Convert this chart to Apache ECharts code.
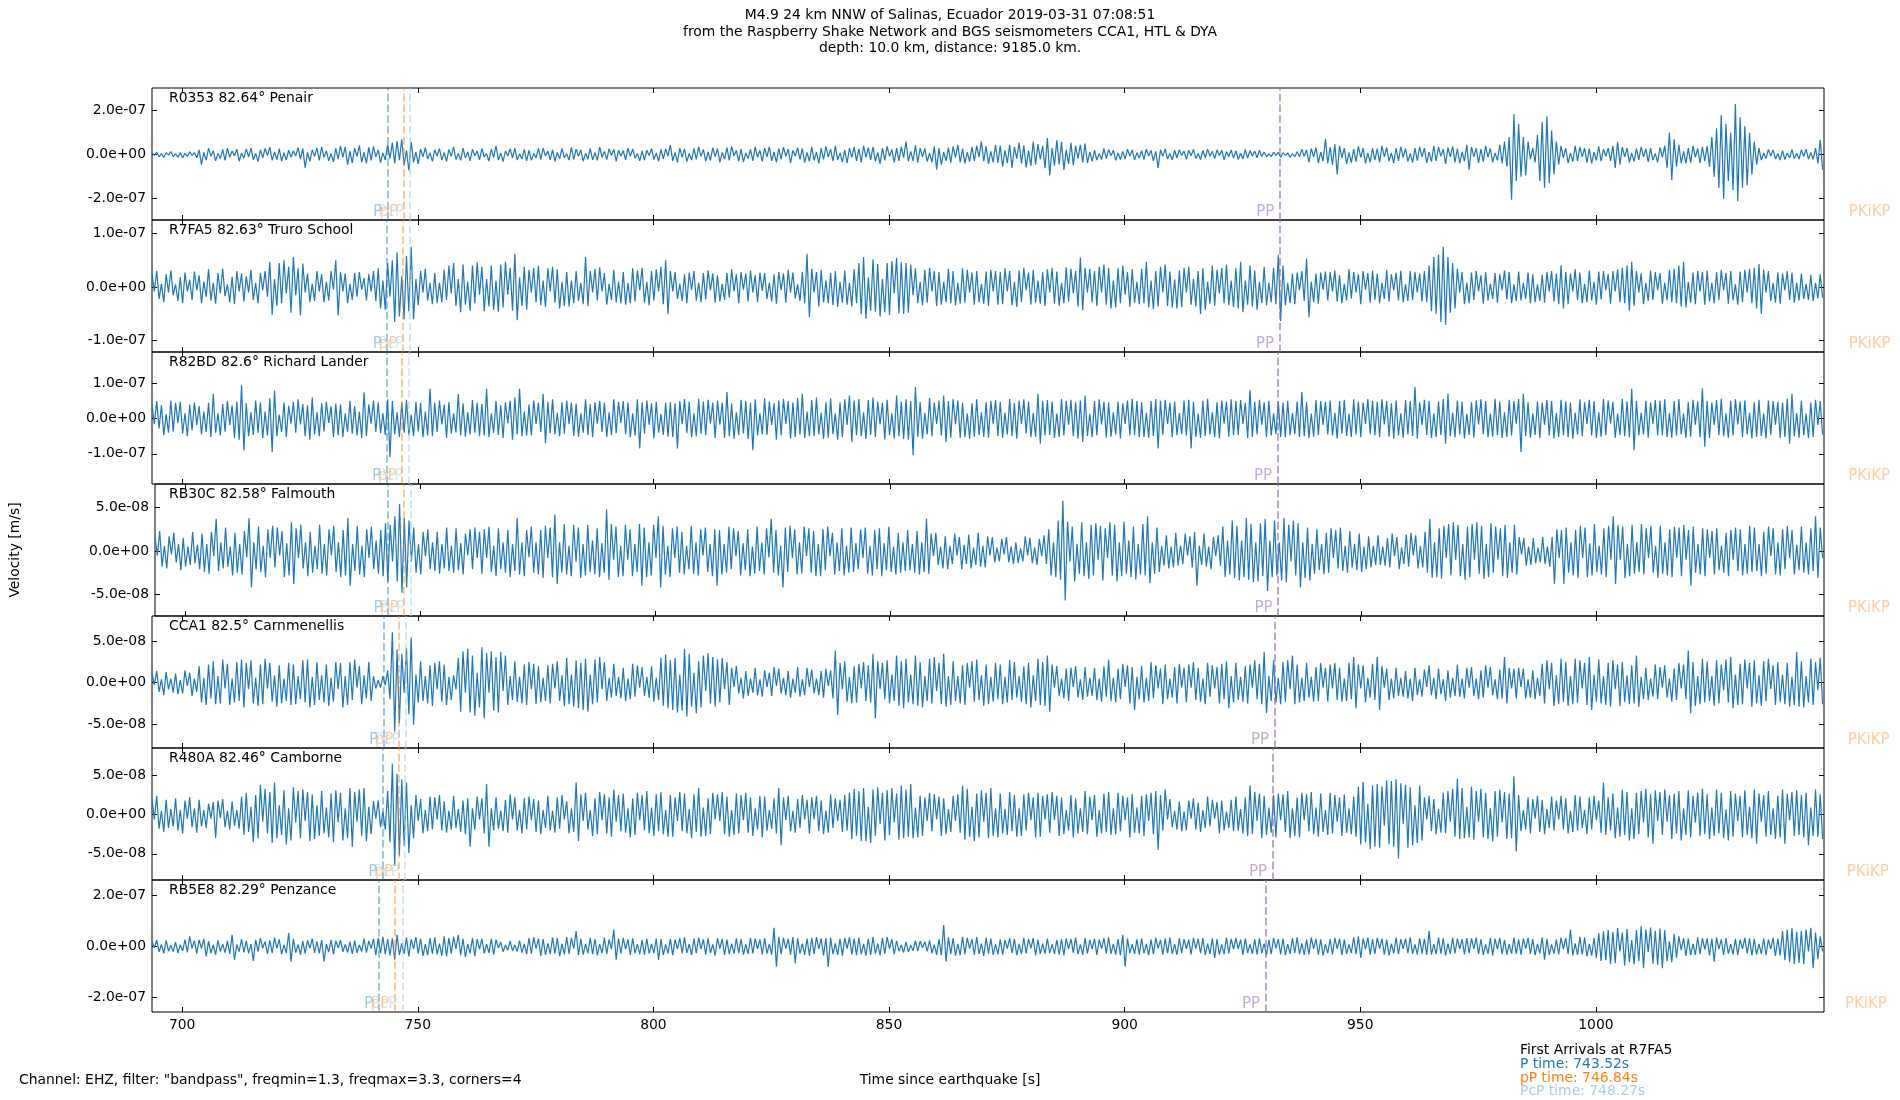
<!DOCTYPE html>
<html><head><meta charset="utf-8">
<script src="https://cdn.jsdelivr.net/npm/echarts@6/dist/echarts.min.js"></script>
<style>html,body{margin:0;padding:0;background:#fff}#c{width:1900px;height:1100px}</style>
</head><body><div id="c"></div>
<script>
// ---- data ----
const T0 = 693.6, DT = 0.5, UNIT = 1e-9;   // samples every 0.5 s, values in nm/s
const X_MIN = 693.6, X_MAX = 1048.4;
const X_TICKS = [700, 750, 800, 850, 900, 950, 1000];
const STATIONS = ['R0353 82.64° Penair', 'R7FA5 82.63° Truro School', 'R82BD 82.6° Richard Lander',
  'RB30C 82.58° Falmouth', 'CCA1 82.5° Carnmenellis', 'R480A 82.46° Camborne', 'RB5E8 82.29° Penzance'];
const Y_MIN = [-2.97e-7, -1.21e-7, -1.86e-7, -7.47e-8, -7.9e-8, -8.33e-8, -2.59e-7];
const Y_MAX = [3.03e-7, 1.25e-7, 1.9e-7, 7.7e-8, 8.07e-8, 8.5e-8, 2.62e-7];
const Y_TICKS = [[-2e-7, 0, 2e-7], [-1e-7, 0, 1e-7], [-1e-7, 0, 1e-7], [-5e-8, 0, 5e-8],
  [-5e-8, 0, 5e-8], [-5e-8, 0, 5e-8], [-2e-7, 0, 2e-7]];
const P_TIME = [743.57, 743.52, 743.36, 743.14, 742.72, 742.57, 741.65];
const PP_SMALL_TIME = [746.96, 746.84, 746.67, 746.54, 746.04, 745.9, 745.12];
const PCP_TIME = [748.23, 748.27, 748.09, 747.94, 747.52, 747.31, 746.82];
const PP_TIME = [932.93, 932.86, 932.43, 932.36, 931.8, 931.4, 929.9];
const PKIKP_TIME = [1063.7, 1063.7, 1063.6, 1063.6, 1063.5, 1063.3, 1062.9];

const R0353 = [
8,-3,12,-10,5,-13,9,-2,14,-9,4,-12,10,-15,6,-8,13,-4,9,-14,
22,-45,10,-25,30,-8,18,-28,6,-18,24,-26,30,-12,17,-5,25,-30,8,-16,
26,-10,30,-24,6,-32,22,-14,28,-4,34,-26,12,-22,27,-30,9,-24,20,-12,
18,-6,32,-20,28,-60,10,-30,22,-8,30,-26,35,-12,18,-28,5,-33,29,-20,
40,-12,35,-45,15,-38,30,-8,42,-35,12,-40,33,-26,38,-10,22,-36,8,-25,
45,-18,55,-40,62,-25,70,-48,20,-72,58,-35,12,-42,25,-10,32,-20,8,-30,
22,-6,28,-25,10,-30,24,-8,35,-22,6,-26,30,-15,12,-28,25,-5,16,-24,
28,-10,5,-30,25,-12,40,-24,8,-32,17,-6,26,-15,30,-25,4,-20,24,-28,
20,-26,6,-15,28,-22,30,-5,16,-24,22,-30,10,-18,28,-14,4,-25,33,-22,
25,-8,22,-30,6,-20,28,-24,10,-26,35,-12,15,-22,27,-4,24,-30,20,-6,
18,-24,30,-8,26,-16,5,-28,17,-25,20,-4,28,-22,8,-30,24,-19,26,-6,
45,-28,10,-35,30,-12,26,-32,6,-25,28,-22,35,-8,24,-30,12,-26,32,-10,
28,-35,10,-20,32,-26,38,-6,20,-30,26,-34,8,-18,24,-28,35,-12,20,-32,
30,-10,36,-28,12,-35,28,-20,34,-8,25,-38,20,-6,32,-22,28,-36,10,-30,
35,-26,12,-40,30,-22,38,-10,25,-30,40,-24,8,-34,22,-38,30,-12,35,-28,
26,-35,40,-12,32,-24,36,-30,10,-42,30,-26,38,-8,24,-36,30,-28,35,-14,
60,-30,15,-28,42,-36,30,-10,28,-32,8,-35,38,-68,30,-45,12,-28,32,-36,
38,-14,45,-35,28,-40,12,-32,35,-28,40,-10,60,-30,38,-42,15,-35,45,-38,
40,-55,20,-38,45,-60,35,-18,55,-40,42,-58,18,-50,60,-45,48,-20,40,-62,
75,-95,30,-50,65,-45,58,-70,22,-42,55,-48,40,-18,45,-35,50,-38,12,-30,
20,-25,6,-22,28,-18,24,-5,20,-26,8,-22,15,-20,25,-7,22,-24,9,-15,
18,-22,25,-6,20,-28,15,-60,22,-8,26,-20,5,-24,20,-15,23,-4,16,-21,
20,-5,24,-18,6,-22,19,-14,25,-7,15,-18,22,-4,20,-24,14,-9,21,-16,
18,-22,5,-20,24,-16,19,-6,17,-14,20,-8,12,-10,4,-9,11,-3,10,-12,
9,-3,8,-12,4,-9,13,-10,25,-8,22,-35,28,-10,32,-38,12,-30,72,-40,
35,-45,48,-90,40,-15,30,-42,10,-36,25,-32,38,-12,30,-40,8,-34,30,-25,
28,-35,40,-10,32,-30,8,-38,30,-28,36,-12,28,-32,6,-36,30,-27,35,-10,
30,-38,12,-32,40,-28,35,-8,25,-42,32,-10,38,-35,28,-40,12,-30,45,-68,
35,-10,30,-38,25,-32,40,-12,28,-35,8,-26,45,-40,60,-55,80,-205,185,-120,
140,-100,80,-95,60,-20,30,-35,90,-120,150,-150,175,-130,110,-90,60,-45,40,-15,
30,-38,8,-32,40,-28,35,-10,30,-36,28,-40,12,-26,38,-30,25,-8,30,-28,
40,-60,58,-45,35,-10,30,-35,8,-32,28,-24,35,-10,26,-33,30,-25,6,-35,
32,-12,40,-60,100,-115,70,-55,45,-38,15,-40,30,-36,40,-12,28,-38,35,-30,
40,-55,80,-100,120,-150,180,-200,140,-120,100,-160,230,-212,170,-150,130,-140,100,-90,
60,-45,30,-25,8,-18,24,-6,22,-20,5,-25,18,-22,8,-15,24,-18,6,-20,
22,-8,25,-20,10,-22,30,-40,68,-68];

const R7FA5 = [
25,-8,30,-22,6,-28,24,-10,31,-15,5,-26,18,-30,27,-8,14,-24,29,-6,
22,-30,10,-18,33,-25,8,-31,26,-12,34,-17,5,-28,19,-32,30,-8,25,-27,
20,-10,32,-24,8,-30,26,-6,30,-18,47,-52,15,-35,45,-30,50,-12,38,-48,
56,-15,35,-53,44,-10,25,-28,6,-26,30,-8,24,-28,10,-25,30,-5,50,-53,
28,-8,25,-30,6,-24,26,-18,28,-5,17,-25,24,-8,30,-26,35,-40,12,-42,
45,-18,50,-65,65,-55,20,-60,58,-45,75,-60,15,-34,30,-10,34,-25,8,-32,
26,-30,8,-28,32,-24,40,-12,45,-35,15,-47,42,-33,10,-44,40,-30,46,-14,
38,-45,15,-36,40,-42,12,-46,42,-38,47,-14,36,-44,62,-62,18,-35,38,-42,
32,-10,36,-28,40,-34,12,-37,35,-8,38,-29,33,-40,10,-35,28,-36,12,-30,
30,-26,8,-32,56,-35,30,-10,34,-25,37,-8,26,-33,6,-24,32,-28,10,-30,
28,-33,8,-30,35,-27,31,-6,36,-29,10,-34,30,-25,33,-8,38,-32,50,-50,
30,-8,28,-22,6,-26,24,-30,27,-5,30,-25,8,-28,26,-23,31,-6,25,-29,
22,-27,6,-24,26,-20,33,-8,24,-30,28,-5,25,-27,31,-10,22,-28,27,-7,
26,-22,8,-27,24,-31,28,-6,25,-29,32,-10,27,-21,5,-26,28,-30,62,-56,
34,-10,28,-36,32,-28,12,-30,26,-34,30,-37,10,-29,31,-33,8,-36,33,-30,
45,-50,56,-59,18,-44,52,-46,43,-55,15,-47,45,-52,48,-12,54,-49,46,-50,
45,-48,42,-15,35,-30,10,-34,32,-29,36,-8,30,-35,28,-33,10,-28,34,-30,
30,-34,8,-31,35,-29,32,-10,27,-33,30,-28,6,-31,29,-35,32,-8,30,-33,
28,-32,35,-8,30,-34,10,-37,31,-28,36,-6,27,-33,32,-29,12,-31,28,-35,
33,-10,36,-31,29,-35,8,-30,37,-27,34,-12,30,-36,55,-43,36,-10,34,-28,
30,-35,38,-10,42,-33,36,-40,12,-38,35,-30,40,-14,28,-37,33,-29,10,-32,
34,-30,47,-38,12,-41,30,-36,38,-10,42,-35,29,-38,14,-40,31,-37,36,-10,
38,-33,15,-36,30,-50,35,-42,10,-31,40,-35,32,-12,36,-30,42,-34,12,-37,
35,-40,47,-47,12,-33,40,-36,31,-42,10,-30,38,-34,8,-28,36,-32,60,-63,
40,-34,8,-30,25,-32,27,-6,30,-26,53,-56,10,-28,25,-31,27,-5,29,-25,
28,-8,31,-27,22,-30,6,-25,33,-21,28,-10,24,-32,30,-5,26,-29,31,-24,
25,-30,8,-22,32,-27,24,-6,27,-25,31,-28,5,-26,30,-24,28,-10,25,-27,
30,-28,40,-45,56,-50,60,-65,75,-70,56,-48,45,-40,34,-10,28,-32,8,-30,
27,-24,30,-8,22,-31,28,-25,6,-22,26,-29,24,-6,31,-23,28,-30,5,-26,
29,-25,8,-22,27,-30,24,-28,5,-26,23,-29,28,-8,30,-27,25,-32,40,-40,
28,-32,25,-8,33,-24,27,-30,6,-28,31,-25,10,-33,29,-23,30,-6,24,-31,
30,-8,33,-28,36,-30,40,-44,47,-35,30,-10,25,-32,8,-26,31,-24,28,-6,
26,-31,8,-25,32,-28,34,-30,40,-36,47,-38,10,-29,27,-32,30,-8,28,-33,
31,-27,8,-30,28,-24,32,-6,26,-31,30,-25,5,-33,29,-28,32,-10,34,-30,
36,-40,43,-50,32,-10,30,-26,8,-29,27,-31,25,-6,30,-24,27,-29,8,-25,
25,-22,6,-24,23,-26,8,-21,24,-20];

const R82BD = [
42,-15,50,-28,38,-47,13,-40,52,-36,45,-12,48,-42,15,-50,40,-33,46,-18,
36,-44,20,-38,45,-52,71,-40,15,-48,42,-37,50,-18,38,-55,48,-60,95,-90,
44,-50,18,-46,52,-40,47,-55,20,-48,58,-95,80,-50,12,-38,46,-52,37,-14,
48,-40,55,-16,42,-50,38,-60,60,-45,18,-50,44,-36,48,-12,35,-52,43,-47,
40,-52,15,-38,50,-43,36,-48,20,-55,75,-50,40,-14,52,-38,47,-41,15,-46,
55,-109,50,-44,18,-52,46,-40,54,-47,12,-50,48,-36,45,-53,20,-48,85,-50,
45,-38,52,-16,40,-55,47,-42,15,-39,70,-48,44,-51,18,-45,53,-40,46,-50,
42,-48,85,-52,15,-40,50,-46,38,-55,47,-13,51,-60,60,-45,85,-50,20,-48,
40,-47,52,-15,46,-38,70,-70,48,-41,55,-45,17,-50,47,-43,52,-15,45,-49,
43,-51,15,-40,55,-46,41,-53,47,-14,50,-38,46,-52,18,-47,55,-41,48,-12,
50,-44,46,-53,15,-48,55,-85,47,-42,52,-17,44,-56,48,-40,13,-46,45,-51,
47,-52,44,-85,50,-16,56,-41,48,-53,15,-50,57,-43,49,-47,54,-14,46,-55,
52,-17,45,-55,76,-50,43,-57,18,-46,54,-42,50,-58,45,-90,55,-48,15,-44,
58,-46,49,-18,44,-60,52,-47,57,-15,50,-56,46,-52,59,-45,71,-55,20,-50,
53,-49,60,-45,17,-57,47,-54,58,-44,15,-60,46,-53,55,-18,66,-66,52,-47,
56,-50,18,-58,53,-46,60,-52,49,-16,45,-59,54,-47,15,-56,66,-50,48,-58,
55,-60,50,-104,90,-52,48,-57,17,-45,59,-50,46,-15,52,-48,66,-66,50,-54,
57,-16,52,-55,46,-53,15,-57,44,-51,55,-46,18,-52,47,-54,51,-14,53,-49,
48,-54,17,-45,56,-49,44,-57,52,-15,55,-42,49,-53,16,-51,71,-71,50,-47,
53,-46,49,-55,15,-52,57,-48,51,-17,54,-50,47,-56,52,-66,66,-49,14,-53,
50,-47,55,-16,48,-54,46,-51,18,-45,49,-56,44,-15,52,-48,57,-46,50,-53,
47,-52,17,-55,50,-49,56,-85,51,-46,54,-15,45,-53,49,-47,16,-44,52,-48,
54,-85,48,-52,15,-55,51,-49,57,-45,18,-53,47,-56,52,-14,49,-51,55,-47,
50,-46,53,-15,45,-55,82,-52,48,-45,54,-17,47,-53,51,-48,15,-44,49,-52,
46,-53,51,-47,16,-44,49,-52,76,-50,47,-55,15,-51,53,-46,50,-18,48,-45,
52,-48,17,-56,50,-43,54,-49,14,-52,55,-45,49,-53,46,-15,56,-44,51,-47,
48,-53,55,-16,50,-51,44,-57,52,-48,15,-54,53,-45,50,-49,91,-56,47,-18,
54,-47,50,-55,15,-52,49,-46,56,-71,71,-50,17,-53,52,-45,48,-56,14,-46,
47,-54,52,-16,55,-44,50,-53,15,-51,57,-47,49,-55,18,-52,54,-48,50,-14,
56,-95,71,-50,47,-54,15,-46,49,-55,45,-17,53,-48,50,-56,16,-52,54,-47,
49,-53,46,-57,17,-45,55,-50,47,-15,54,-48,50,-55,18,-51,56,-47,52,-14,
48,-55,15,-46,57,-50,49,-53,85,-90,51,-47,17,-45,50,-54,46,-15,53,-48,
51,-47,55,-52,16,-54,50,-48,56,-45,15,-55,47,-51,54,-17,49,-53,87,-80,
50,-55,46,-18,53,-47,57,-50,15,-54,51,-48,55,-16,49,-53,52,-45,17,-56,
47,-51,54,-49,15,-56,52,-46,50,-17,48,-55,46,-52,57,-71,71,-50,16,-54,
52,-47,15,-55,46,-52,54,-18,50,-45];

const RB30C = [
16,-5,23,-18,6,-20,17,-4,21,-13,8,-22,15,-18,5,-16,22,-14,7,-21,
20,-24,8,-26,22,-6,37,-23,10,-20,27,-18,5,-28,21,-25,8,-27,23,-7,
38,-42,10,-21,28,-24,6,-30,25,-8,29,-19,27,-5,23,-30,9,-28,33,-38,
26,-8,30,-20,10,-29,22,-25,6,-21,30,-26,8,-28,25,-5,29,-24,10,-30,
24,-28,38,-40,8,-23,29,-27,6,-30,25,-8,28,-21,12,-26,24,-29,32,-35,
30,-12,40,-35,54,-48,38,-42,35,-12,27,-25,8,-27,22,-6,25,-21,10,-23,
22,-26,8,-20,27,-23,6,-25,26,-22,9,-27,20,-5,25,-21,27,-8,22,-26,
25,-8,28,-24,6,-29,26,-21,10,-25,24,-30,8,-23,38,-27,10,-29,24,-7,
28,-25,10,-27,24,-31,29,-8,27,-30,42,-38,10,-25,31,-27,6,-29,30,-12,
27,-31,8,-28,30,-24,12,-27,26,-30,9,-25,48,-33,31,-10,28,-30,6,-29,
30,-10,25,-29,8,-24,31,-40,27,-30,10,-28,30,-8,40,-42,29,-27,6,-30,
26,-8,28,-25,22,-27,6,-21,29,-26,10,-28,25,-5,27,-24,8,-29,25,-40,
24,-27,8,-25,28,-21,26,-6,23,-28,9,-22,25,-29,5,-26,28,-23,10,-27,
26,-7,37,-25,24,-28,6,-42,27,-24,29,-8,25,-27,10,-26,28,-6,26,-25,
23,-29,8,-29,25,-22,28,-6,21,-27,10,-23,26,-28,6,-25,27,-24,9,-21,
25,-8,27,-26,6,-28,24,-21,26,-29,9,-22,28,-24,5,-27,21,-25,10,-23,
24,-22,8,-25,23,-27,10,-24,37,-26,20,-6,21,-16,5,-20,17,-21,6,-15,
20,-5,16,-21,7,-15,19,-20,4,-16,21,-18,6,-19,17,-5,16,-13,4,-12,
14,-4,16,-13,5,-15,10,-14,3,-12,17,-5,15,-14,4,-16,14,-6,18,-15,
25,-28,10,-30,35,-33,58,-57,34,-12,28,-35,8,-26,33,-29,10,-32,30,-28,
32,-10,29,-34,26,-8,33,-28,30,-35,10,-29,34,-26,12,-30,28,-33,8,-27,
31,-28,40,-37,10,-26,27,-24,6,-17,18,-20,5,-19,21,-17,6,-15,20,-5,
17,-19,22,-40,6,-16,20,-18,5,-21,16,-6,18,-17,28,-30,12,-27,35,-31,
29,-34,12,-30,38,-33,31,-36,10,-35,32,-29,37,-46,12,-30,35,-28,10,-34,
38,-36,30,-12,35,-28,32,-42,10,-31,27,-34,8,-26,25,-22,8,-27,21,-25,
26,-8,24,-20,27,-23,6,-25,23,-19,8,-22,20,-24,5,-21,17,-19,6,-16,
18,-16,5,-17,15,-19,20,-6,16,-21,4,-15,19,-18,21,-5,18,-20,6,-19,
22,-25,37,-31,10,-30,26,-32,29,-8,31,-28,33,-10,30,-29,8,-33,28,-30,
31,-10,33,-26,29,-32,8,-30,32,-25,28,-10,26,-29,30,-31,10,-25,30,-27,
16,-4,15,-17,5,-16,15,-14,4,-13,16,-15,5,-18,16,-38,25,-8,24,-38,
27,-25,10,-28,24,-31,29,-8,27,-30,9,-28,31,-24,6,-27,26,-30,29,-10,
40,-38,30,-10,28,-31,8,-29,30,-26,10,-24,31,-27,26,-8,29,-25,6,-31,
29,-26,10,-28,25,-30,28,-8,27,-29,30,-10,24,-40,28,-25,8,-27,26,-29,
25,-8,23,-27,26,-22,6,-25,21,-29,24,-10,27,-23,25,-28,8,-26,29,-24,
27,-23,8,-29,22,-26,28,-6,26,-27,10,-28,25,-21,29,-8,24,-27,7,-22,
28,-25,10,-27,26,-23,40,-31,27,-8];

const CCA1 = [
12,-3,14,-11,4,-15,13,-8,5,-12,11,-14,3,-13,15,-4,12,-16,5,-11,
20,-24,6,-27,22,-19,26,-26,8,-25,28,-7,23,-27,5,-24,25,-22,28,-30,
24,-8,27,-25,6,-28,22,-26,29,-7,24,-23,9,-29,21,-25,5,-22,24,-27,
22,-26,8,-20,27,-24,28,-30,7,-27,25,-21,9,-24,22,-28,6,-23,25,-8,
24,-30,8,-27,25,-21,28,-6,20,-26,9,-19,25,-22,8,-7,3,-6,8,-3,
15,-20,61,-59,40,-49,35,-12,42,-38,55,-51,10,-24,26,-22,8,-25,21,-28,
24,-8,26,-23,22,-27,7,-21,9,-8,30,-35,38,-12,41,-36,33,-40,12,-30,
43,-43,36,-12,38,-34,31,-36,37,-10,33,-27,8,-21,26,-23,7,-25,22,-27,
25,-8,23,-26,20,-24,6,-22,21,-25,23,-7,26,-22,9,-28,30,-26,10,-29,
27,-31,24,-33,29,-35,10,-26,28,-24,31,-8,25,-22,6,-18,23,-16,7,-19,
18,-22,5,-20,23,-17,21,-6,19,-16,7,-18,20,-23,6,-21,30,-28,34,-31,
27,-33,30,-36,10,-34,41,-41,35,-29,12,-37,26,-30,33,-10,36,-25,31,-29,
28,-24,30,-8,25,-27,18,-5,20,-13,6,-19,14,-16,5,-12,18,-15,4,-17,
15,-5,12,-16,19,-4,17,-13,6,-15,14,-18,5,-12,19,-17,4,-15,18,-5,
16,-13,5,-15,14,-18,17,-4,15,-19,39,-39,24,-8,26,-23,7,-25,20,-24,
23,-7,25,-22,21,-24,35,-43,26,-8,24,-20,27,-25,10,-22,33,-28,26,-31,
29,-24,10,-26,33,-28,25,-30,8,-22,29,-25,31,-10,24,-26,35,-29,8,-27,
26,-22,8,-25,21,-27,24,-6,26,-23,28,-21,9,-28,22,-26,7,-23,24,-20,
22,-26,7,-24,27,-21,25,-18,8,-23,20,-26,24,-30,9,-22,29,-27,25,-28,
33,-35,22,-6,20,-16,5,-19,17,-22,18,-5,20,-18,4,-21,19,-17,6,-16,
18,-21,5,-23,20,-17,28,-22,6,-24,17,-20,23,-5,21,-25,19,-33,7,-20,
20,-24,6,-22,25,-19,21,-7,17,-26,22,-20,5,-18,19,-25,23,-6,18,-24,
22,-6,25,-21,18,-23,5,-26,24,-17,21,-7,19,-25,23,-20,26,-31,8,-24,
24,-21,7,-23,20,-25,22,-6,27,-20,23,-26,37,-37,8,-22,27,-24,6,-26,
25,-23,27,-8,33,-26,22,-24,6,-22,24,-18,7,-23,19,-22,24,-6,18,-23,
22,-7,24,-21,18,-23,5,-22,24,-20,31,-31,22,-7,21,-24,6,-18,23,-21,
31,-33,20,-6,17,-21,5,-19,18,-16,6,-17,14,-19,5,-22,18,-15,4,-17,
16,-5,21,-15,6,-20,17,-14,4,-22,15,-18,6,-16,22,-17,5,-19,18,-6,
19,-16,5,-20,15,-18,21,-6,19,-15,4,-20,16,-19,31,-25,18,-7,17,-19,
18,-5,17,-19,4,-18,15,-20,6,-16,23,-25,27,-8,24,-28,9,-26,29,-23,
25,-28,8,-26,29,-24,27,-7,24,-27,31,-33,10,-23,28,-25,8,-27,24,-29,
27,-8,22,-28,25,-23,9,-26,21,-25,33,-29,7,-20,18,-21,5,-17,22,-20,
19,-6,21,-18,5,-23,17,-21,24,-7,22,-20,39,-37,25,-28,8,-26,29,-24,
26,-22,8,-28,27,-25,22,-9,28,-24,31,-31,10,-27,23,-26,28,-7,24,-29,
27,-25,9,-28,26,-22,29,-8,21,-27,25,-23,10,-26,24,-29,7,-27,37,-29,
26,-30,8,-24,29,-27,25,-9,30,-26];

const R480A = [
20,-6,24,-18,5,-22,19,-17,7,-15,21,-20,6,-24,18,-5,22,-16,8,-23,
19,-15,6,-17,14,-5,16,-30,18,-4,20,-16,5,-19,17,-14,6,-18,23,-26,
28,-22,10,-35,25,-30,38,-9,33,-24,29,-36,41,-30,12,-26,31,-38,8,-33,
35,-10,30,-30,32,-8,29,-34,26,-31,12,-27,30,-24,9,-29,27,-35,31,-10,
28,-33,8,-30,34,-41,29,-9,32,-27,34,-34,10,-25,17,-5,18,-16,4,-19,
30,-35,65,-65,52,-52,45,-40,41,-49,12,-30,25,-8,20,-24,6,-21,23,-19,
22,-6,25,-20,17,-23,5,-19,24,-17,7,-22,18,-25,21,-41,8,-19,23,-6,
21,-24,39,-41,8,-20,22,-18,5,-21,19,-23,26,-6,22,-20,6,-24,21,-19,
23,-7,20,-22,18,-25,6,-17,24,-20,5,-23,22,-18,25,-6,17,-24,8,-22,
41,-34,26,-8,28,-19,6,-27,21,-25,29,-7,26,-24,22,-28,32,-9,25,-21,
27,-23,8,-29,21,-26,28,-7,25,-20,30,-24,9,-27,26,-21,29,-25,6,-28,
25,-28,22,-8,29,-21,27,-24,7,-30,26,-22,34,-28,9,-27,21,-25,28,-6,
26,-8,29,-25,23,-28,6,-26,27,-24,25,-7,28,-23,22,-27,8,-19,24,-29,
23,-20,6,-18,21,-24,34,-39,22,-7,24,-21,5,-23,20,-17,25,-6,19,-24,
22,-6,24,-21,18,-25,5,-23,26,-17,21,-8,19,-22,25,-20,28,-31,33,-27,
30,-34,34,-34,10,-36,32,-27,35,-12,28,-33,31,-26,34,-10,27,-32,37,-30,
32,-28,39,-30,9,-29,24,-27,22,-8,28,-21,26,-6,23,-27,21,-25,7,-22,
24,-8,26,-23,37,-32,33,-28,10,-34,27,-29,31,-9,28,-30,34,-27,8,-29,
27,-24,7,-26,29,-21,25,-28,8,-27,26,-20,28,-7,22,-29,28,-28,24,-6,
26,-23,29,-7,24,-27,22,-25,6,-20,25,-29,21,-24,8,-22,30,-25,23,-7,
25,-28,6,-24,27,-22,29,-26,8,-25,28,-21,24,-7,22,-29,26,-23,9,-24,
24,-27,26,-8,28,-25,30,-45,25,-20,32,-6,20,-16,5,-19,17,-21,4,-20,
18,-5,21,-19,15,-22,6,-17,23,-15,19,-5,16,-24,18,-20,4,-17,19,-21,
23,-20,7,-24,22,-27,37,-25,29,-8,27,-30,24,-26,9,-23,25,-29,27,-7,
26,-22,30,-30,8,-27,22,-29,28,-7,26,-21,29,-25,9,-28,27,-22,6,-26,
28,-24,25,-9,22,-27,26,-23,8,-25,23,-28,36,-38,42,-35,14,-44,37,-41,
39,-42,36,-14,44,-38,43,-41,45,-56,40,-12,38,-42,35,-39,12,-36,37,-33,
22,-6,24,-21,20,-25,7,-23,28,-24,30,-9,33,-28,46,-31,34,-30,10,-29,
36,-32,30,-9,33,-29,28,-31,8,-34,30,-28,32,-10,29,-31,27,-30,49,-47,
25,-21,6,-19,22,-24,20,-5,24,-22,19,-25,7,-17,23,-20,18,-6,24,-19,
21,-24,5,-22,25,-20,23,-17,6,-25,22,-19,24,-7,18,-23,41,-26,22,-20,
27,-30,9,-28,32,-26,29,-33,8,-31,28,-25,30,-10,33,-29,26,-37,31,-8,
29,-26,32,-9,25,-31,27,-24,30,-33,8,-26,31,-29,24,-10,28,-27,33,-25,
26,-31,9,-27,32,-24,28,-30,7,-33,30,-28,27,-8,24,-29,31,-26,10,-30,
32,-37,27,-9,25,-28,30,-26,8,-31,24,-29,32,-37,27,-7,29,-27,31,-26,
25,-29,28,-39,9,-27,32,-28,26,-31];

const RB5E8 = [
20,-6,25,-22,8,-28,24,-19,5,-21,17,-26,7,-18,27,-24,40,-8,23,-29,
26,-8,30,-40,21,-27,6,-33,24,-20,9,-25,22,-30,46,-53,8,-21,29,-24,
22,-28,9,-57,26,-21,33,-7,19,-30,24,-27,35,-8,28,-31,6,-26,53,-60,
30,-25,8,-33,21,-29,24,-7,31,-26,20,-28,25,-60,9,-23,26,-32,22,-6,
25,-21,8,-24,19,-30,23,-26,6,-20,31,-25,22,-9,30,-35,33,-27,38,-31,
29,-36,32,-53,46,-34,12,-30,35,-40,28,-10,37,-29,31,-38,9,-35,33,-30,
36,-32,11,-37,40,-40,34,-29,38,-10,46,-35,30,-42,9,-28,33,-39,29,-12,
31,-28,9,-26,30,-33,27,-6,17,-21,5,-15,22,-18,6,-20,23,-25,10,-31,
33,-29,36,-9,31,-38,29,-34,12,-30,35,-28,33,-39,10,-32,37,-30,34,-9,
60,-35,30,-33,10,-28,34,-31,29,-36,9,-27,35,-30,28,-11,66,-53,31,-29,
34,-11,28,-35,32,-27,9,-31,26,-33,30,-29,10,-27,31,-53,29,-34,8,-28,
30,-35,27,-10,33,-28,36,-26,9,-34,31,-27,35,-11,28,-33,32,-26,8,-36,
33,-9,30,-34,27,-31,11,-29,32,-27,29,-33,8,-30,34,-28,31,-10,28,-32,
32,-29,10,-33,73,-80,38,-31,34,-9,30,-33,37,-66,32,-29,11,-34,31,-37,
34,-30,37,-10,31,-36,33,-80,35,-31,12,-34,30,-37,33,-9,36,-32,31,-35,
35,-31,10,-37,30,-34,38,-29,11,-36,34,-30,37,-9,29,-31,22,-19,6,-24,
18,-22,5,-17,23,-19,21,-6,18,-20,24,-27,7,-33,28,-35,84,-60,36,-31,
33,-37,10,-35,38,-31,34,-9,29,-33,37,-30,11,-38,35,-29,31,-34,9,-32,
28,-33,25,-9,32,-27,29,-35,10,-31,34,-28,30,-8,33,-36,27,-30,11,-29,
31,-27,9,-30,26,-33,29,-36,32,-10,30,-25,35,-31,8,-34,33,-29,26,-11,
30,-34,27,-9,33,-28,36,-30,10,-33,29,-35,46,-80,31,-27,9,-30,28,-33,
32,-28,10,-35,27,-31,34,-8,26,-33,31,-27,35,-30,9,-34,32,-26,29,-10,
27,-32,34,-9,31,-27,33,-35,11,-30,32,-46,29,-33,8,-31,35,-28,30,-12,
33,-10,27,-34,31,-26,9,-30,28,-33,32,-27,11,-35,26,-31,34,-8,29,-32,
31,-35,9,-30,33,-27,36,-31,12,-34,27,-32,35,-10,30,-33,28,-36,9,-27,
29,-32,34,-10,31,-35,27,-30,8,-26,36,-31,40,-46,32,-11,35,-33,28,-30,
34,-9,30,-33,27,-36,11,-28,35,-31,29,-10,31,-27,36,-30,8,-33,32,-29,
30,-34,60,-33,9,-31,35,-29,32,-36,11,-30,34,-28,31,-10,29,-32,33,-27,
32,-10,35,-31,29,-34,8,-30,33,-36,30,-11,34,-31,26,-33,9,-29,35,-30,
28,-33,31,-9,34,-30,29,-35,10,-28,36,-53,30,-34,8,-29,27,-32,35,-11,
33,-30,66,-36,12,-34,38,-32,35,-40,10,-37,33,-45,53,-58,60,-55,64,-70,
58,-66,72,-20,55,-75,68,-62,25,-70,64,-59,80,-86,66,-22,74,-68,62,-72,
70,-86,64,-58,20,-62,50,-45,40,-15,33,-38,31,-35,10,-34,36,-30,33,-12,
32,-36,30,-60,35,-11,28,-34,33,-29,9,-32,30,-35,27,-10,34,-28,32,-36,
29,-33,10,-30,31,-35,28,-11,34,-38,30,-36,60,-55,66,-62,73,-70,58,-65,
62,-70,66,-20,73,-86,55,-50,40,-20];

const TRACES = [R0353, R7FA5, R82BD, RB30C, CCA1, R480A, RB5E8];

// ---- styling ----
const FONT = 'DejaVu Sans', FS = 13.9;
const TRACE_COLOR = '#1f77b4';
const C_P = 'rgba(31,119,180,0.5)', C_PS = 'rgba(255,127,14,0.5)', C_PCP = 'rgba(166,206,227,0.6)';
const C_PP = 'rgba(148,103,189,0.7)', C_PKIKP = 'rgba(255,127,14,0.5)';
const DASH = [7.5, 3.3];

function sci(v) {
  if (v === 0) return '0.0e+00';
  const s = v.toExponential(1).split('e');
  const sign = s[1][0] === '-' ? '-' : '+';
  let d = s[1].replace(/[+-]/, '');
  if (d.length < 2) d = '0' + d;
  return s[0] + 'e' + sign + d;
}

const grids = [], xAxes = [], yAxes = [], series = [];
const txt = (extra) => Object.assign({ color: '#000', fontFamily: FONT, fontSize: FS, fontWeight: 'normal' }, extra || {});
const titles = [
  { text: 'M4.9 24 km NNW of Salinas, Ecuador 2019-03-31 07:08:51', left: 'center', top: 8, padding: 0, textStyle: txt() },
  { text: 'from the Raspberry Shake Network and BGS seismometers CCA1, HTL & DYA', left: 'center', top: 25, padding: 0, textStyle: txt() },
  { text: 'depth: 10.0 km, distance: 9185.0 km.', left: 'center', top: 41, padding: 0, textStyle: txt() },
  { text: 'Channel: EHZ, filter: "bandpass", freqmin=1.3, freqmax=3.3, corners=4', left: 19, top: 1073, padding: 0, textStyle: txt() },
  { text: 'Time since earthquake [s]', left: 'center', top: 1073, padding: 0, textStyle: txt() },
  { text: 'First Arrivals at R7FA5', left: 1520, top: 1043, padding: 0, textStyle: txt() },
  { text: 'P time: 743.52s', left: 1520, top: 1057.5, padding: 0, textStyle: txt({ color: '#1f77b4' }) },
  { text: 'pP time: 746.84s', left: 1520, top: 1071, padding: 0, textStyle: txt({ color: '#ff7f0e' }) },
  { text: 'PcP time: 748.27s', left: 1520, top: 1084.5, padding: 0, textStyle: txt({ color: '#a6cee3' }) }
];

for (let i = 0; i < 7; i++) {
  const top = 88 + 132 * i;
  grids.push({ left: 152, right: 76, top: top, height: 132, show: true, borderColor: '#000', borderWidth: 1, backgroundColor: 'transparent' });
  const xt = { show: true, inside: true, length: 5, lineStyle: { color: '#000', width: 1 }, customValues: X_TICKS };
  xAxes.push({ type: 'value', gridIndex: i, min: X_MIN, max: X_MAX, position: 'bottom',
    axisLine: { show: false, onZero: false }, splitLine: { show: false }, axisTick: xt,
    axisLabel: { show: i === 6, customValues: X_TICKS, formatter: v => String(v), margin: 6, color: '#000', fontFamily: FONT, fontSize: FS } });
  xAxes.push({ type: 'value', gridIndex: i, min: X_MIN, max: X_MAX, position: 'top',
    axisLine: { show: false, onZero: false }, splitLine: { show: false }, axisTick: xt, axisLabel: { show: false } });
  const yt = { show: true, inside: true, length: 5, lineStyle: { color: '#000', width: 1 }, customValues: Y_TICKS[i] };
  yAxes.push({ type: 'value', gridIndex: i, min: Y_MIN[i], max: Y_MAX[i], position: 'left',
    axisLine: { show: false, onZero: false }, splitLine: { show: false }, axisTick: yt,
    axisLabel: { show: true, customValues: Y_TICKS[i], formatter: sci, margin: 6, color: '#000', fontFamily: FONT, fontSize: FS },
    name: i === 3 ? 'Velocity [m/s]' : '', nameLocation: 'middle', nameGap: 133, nameRotate: 90,
    nameTextStyle: { color: '#000', fontFamily: FONT, fontSize: FS } });
  yAxes.push({ type: 'value', gridIndex: i, min: Y_MIN[i], max: Y_MAX[i], position: 'right',
    axisLine: { show: false, onZero: false }, splitLine: { show: false }, axisTick: yt, axisLabel: { show: false } });

  titles.push({ text: STATIONS[i], left: 169, top: top + 3, padding: 0, textStyle: txt() });

  series.push({
    type: 'line', xAxisIndex: 2 * i, yAxisIndex: 2 * i,
    data: TRACES[i].map((v, k) => [T0 + k * DT, v * UNIT]),
    showSymbol: false, symbol: 'none', clip: true, silent: true, animation: false,
    lineStyle: { color: TRACE_COLOR, width: 1.2 }, itemStyle: { color: TRACE_COLOR },
    markLine: {
      silent: true, animation: false, symbol: ['none', 'none'], label: { show: false },
      data: [
        { xAxis: P_TIME[i], lineStyle: { color: C_P, type: DASH, width: 1.7 } },
        { xAxis: PP_SMALL_TIME[i], lineStyle: { color: C_PS, type: DASH, width: 1.7 } },
        { xAxis: PCP_TIME[i], lineStyle: { color: C_PCP, type: DASH, width: 1.7 } },
        { xAxis: PP_TIME[i], lineStyle: { color: C_PP, type: DASH, width: 1.7 } }
      ]
    }
  });

  const ph = [['P', P_TIME[i], C_P], ['pP', PP_SMALL_TIME[i], C_PS], ['PcP', PCP_TIME[i], C_PCP],
              ['PP', PP_TIME[i], C_PP], ['PKiKP', PKIKP_TIME[i], C_PKIKP]];
  series.push({
    type: 'scatter', xAxisIndex: 2 * i, yAxisIndex: 2 * i, clip: false, silent: true, animation: false,
    symbolSize: 1, itemStyle: { color: 'rgba(0,0,0,0)' }, z: 5,
    label: { show: true, position: 'left', distance: 5, verticalAlign: 'bottom', formatter: '{b}', fontFamily: FONT, fontSize: 15 },
    data: ph.map(p => ({ name: p[0], value: [p[1], Y_MIN[i]], label: { color: p[2] } }))
  });
}

const chart = echarts.init(document.getElementById('c'), null, { renderer: 'canvas', width: 1900, height: 1100 });
chart.setOption({ backgroundColor: '#fff', animation: false, title: titles, grid: grids, xAxis: xAxes, yAxis: yAxes, series: series });
</script></body></html>
